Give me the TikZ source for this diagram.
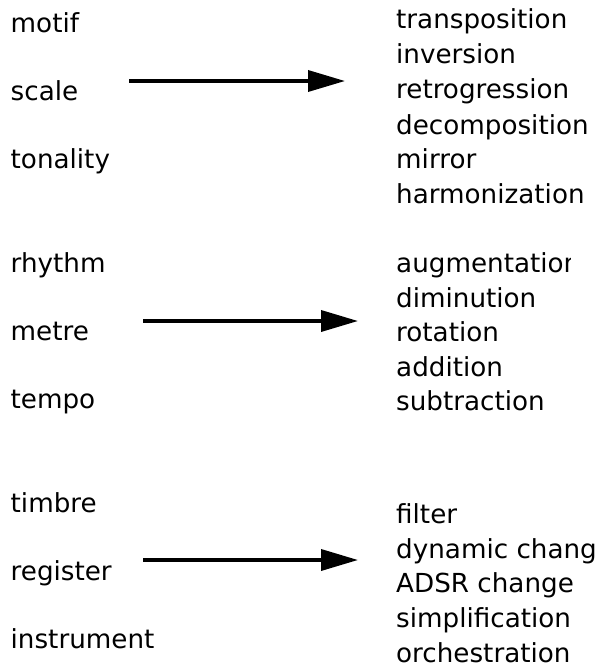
\documentclass[tikz,border=0pt]{standalone}
\usepackage{fontspec}
\setmainfont{DejaVu Sans}
\usetikzlibrary{arrows.meta}
\tikzset{
  lbl/.style={anchor=base west, inner sep=0pt, font=\fontsize{26.2}{31}\selectfont},
  conn/.style={line width=3.6pt, -{Triangle[length=37pt, width=21pt]}}
}
\begin{document}
\begin{tikzpicture}[x=1pt, y=-1pt]
\useasboundingbox (0,0) rectangle (597,665);
\clip (0,0) rectangle (597,665);
% left column
\node[lbl] (motif) at (10.5,32) {motif};
\node[lbl] (scale) at (10.5,100.5) {scale};
\node[lbl] (tonality) at (10.5,168) {tonality};
\node[lbl] (rhythm) at (10.5,272.3) {rhythm};
\node[lbl] (metre) at (10.5,340.7) {metre};
\node[lbl] (tempo) at (10.5,408.3) {tempo};
\node[lbl] (timbre) at (10.5,512) {timbre};
\node[lbl] (register) at (10.5,580.7) {register};
\node[lbl] (instrument) at (10.5,648) {instrument};
% right column, top
\node[lbl] (transposition) at (396,28.3) {transposition};
\node[lbl] (inversion) at (396,63.5) {inversion};
\node[lbl] (retrogression) at (396,98.8) {retrogression};
\node[lbl] (decomposition) at (396,134) {decomposition};
\node[lbl] (mirror) at (396,168) {mirror};
\node[lbl] (harmonization) at (396,203) {harmonization};
% right column, middle
\begin{scope}
\clip (380,240) rectangle (570,290);
\node[lbl] (augmentation) at (396,272.3) {augmentation};
\end{scope}
\node[lbl] (diminution) at (396,307) {diminution};
\node[lbl] (rotation) at (396,341.5) {rotation};
\node[lbl] (addition) at (396,376) {addition};
\node[lbl] (subtraction) at (396,410.7) {subtraction};
% right column, bottom
\node[lbl] (filter) at (396,523.3) {filter};
\begin{scope}
\clip (380,530) rectangle (596,575);
\node[lbl] (dynamic) at (396,558.3) {dynamic change};
\end{scope}
\node[lbl] (adsr) at (396,592.7) {ADSR change};
\node[lbl] (simpl) at (396,627.3) {simplification};
\node[lbl] (orch) at (396,662) {orchestration};
% arrows
\coordinate (a1s) at (129,81);
\coordinate (a1e) at (345,81);
\coordinate (a2s) at (143,321);
\coordinate (a2e) at (358,321);
\coordinate (a3s) at (143,560);
\coordinate (a3e) at (358,560);
\draw[conn] (a1s) -- (a1e);
\draw[conn] (a2s) -- (a2e);
\draw[conn] (a3s) -- (a3e);
\end{tikzpicture}
\end{document}
